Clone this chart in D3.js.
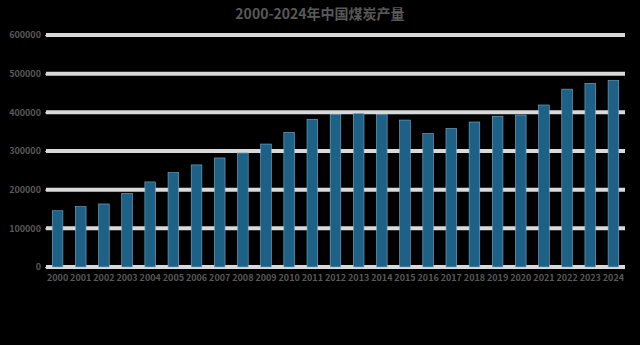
<!DOCTYPE html>
<html>
<head>
<meta charset="utf-8">
<script src="https://cdn.jsdelivr.net/npm/d3@7"></script>
<style>
  html, body { margin: 0; padding: 0; background: #000; }
  svg { display: block; }
  text { font-family: "Noto Sans CJK SC", "Noto Sans", sans-serif; fill: #595959; }
</style>
</head>
<body>
<svg width="640" height="345"></svg>
<script>
var years = ["2000","2001","2002","2003","2004","2005","2006","2007","2008","2009","2010","2011","2012",
             "2013","2014","2015","2016","2017","2018","2019","2020","2021","2022","2023","2024"];
var output = [145500, 156000, 163000, 190000, 220000, 244000, 264000, 282000, 295000, 318000, 348000, 382000, 395000,
              397000, 394000, 380000, 345000, 358000, 375000, 390000, 393000, 419000, 460000, 475000, 482000];
var yTicks = [0, 100000, 200000, 300000, 400000, 500000, 600000];
var title = "2000-2024年中国煤炭产量";

var svg = d3.select("svg"),
    margin = {top: 35, right: 15, bottom: 78, left: 46},
    width = svg.attr("width") - margin.left - margin.right,
    height = svg.attr("height") - margin.top - margin.bottom,
    g = svg.append("g").attr("transform", "translate(" + margin.left + "," + margin.top + ")");

var x = d3.scaleBand().domain(years).range([0, width]).paddingInner(0.54).paddingOuter(0.27),
    y = d3.scaleLinear().domain([0, 600000]).range([height, 0]);

// title
svg.append("text")
    .attr("x", 320)
    .attr("y", 19)
    .attr("text-anchor", "middle")
    .style("font-size", "14px")
    .style("font-weight", "bold")
    .text(title);

// gridlines
g.append("g")
    .selectAll("line")
    .data(yTicks)
    .enter().append("line")
    .attr("x1", 0)
    .attr("x2", width)
    .attr("y1", function(d) { return y(d); })
    .attr("y2", function(d) { return y(d); })
    .attr("stroke", "#d9d9d9")
    .attr("stroke-width", 4);

// y axis labels
var yAxis = g.append("g")
    .call(d3.axisLeft(y).tickValues(yTicks).tickSize(1).tickPadding(4).tickFormat(d3.format("d")));
yAxis.select(".domain").remove();
yAxis.selectAll("line").attr("stroke", "#bfbfbf");
yAxis.selectAll("text").style("font-size", "9px").style("font-weight", "bold").attr("fill", "#595959");

// bars
g.selectAll(".bar")
    .data(output)
    .enter().append("rect")
    .attr("class", "bar")
    .attr("x", function(d, i) { return x(years[i]); })
    .attr("y", function(d) { return y(d); })
    .attr("width", x.bandwidth())
    .attr("height", function(d) { return height - y(d); })
    .attr("fill", "#1d6186")
    .attr("stroke", "#7fb0cc")
    .attr("stroke-width", 0.6);

// x axis labels
var xAxis = g.append("g")
    .attr("transform", "translate(0," + (height + 2) + ")")
    .call(d3.axisBottom(x).tickSize(0).tickPadding(6));
xAxis.select(".domain").remove();
xAxis.selectAll("text").style("font-size", "9px").style("font-weight", "bold").attr("fill", "#595959");
</script>
</body>
</html>
